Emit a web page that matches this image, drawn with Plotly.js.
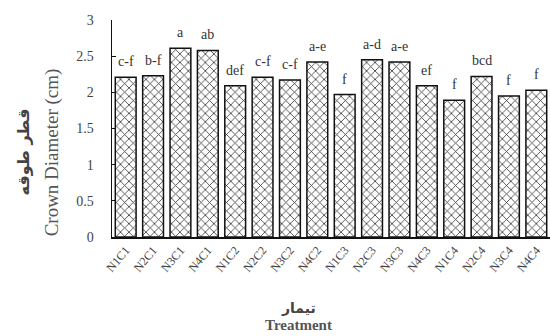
<!DOCTYPE html>
<html><head><meta charset="utf-8">
<script src="https://cdn.plot.ly/plotly-3.0.1.min.js"></script>
<style>html,body{margin:0;padding:0;background:#fff}#c{width:550px;height:336px}</style>
</head><body><div id="c"></div>
<script>
const categories = ["N1C1","N2C1","N3C1","N4C1","N1C2","N2C2","N3C2","N4C2","N1C3","N2C3","N3C3","N4C3","N1C4","N2C4","N3C4","N4C4"];
const values = [2.21,2.23,2.61,2.58,2.09,2.21,2.17,2.42,1.97,2.45,2.42,2.09,1.89,2.22,1.95,2.03];
const letters = ["c-f","b-f","a","ab","def","c-f","c-f","a-e","f","a-d","a-e","ef","f","bcd","f","f"];
const yTicks = [0,0.5,1,1.5,2,2.5,3];

const serif = "Liberation Serif";
const trace = {
  type: "bar", x: categories, y: values, width: 0.76,
  marker: {color: "#fff", line: {color: "#111", width: 1.5},
    pattern: {shape: "x", fgcolor: "#333", bgcolor: "#fff", size: 6, solidity: 0.25}},
  hoverinfo: "skip"
};
const letterAnns = categories.map((c, i) => ({
  x: c, y: values[i], xref: "x", yref: "y", text: letters[i], showarrow: false,
  yanchor: "bottom", yshift: 6, font: {family: serif, size: 14, color: "#333"}
}));
const layout = {
  width: 550, height: 336, showlegend: false,
  font: {family: serif},
  margin: {l: 112, r: 0, t: 20, b: 99},
  paper_bgcolor: "#fff", plot_bgcolor: "#fff",
  xaxis: {type: "category", range: [-0.5, 15.5], showline: true, linecolor: "#111", linewidth: 1.5,
    ticks: "", tickangle: -50, tickfont: {family: serif, size: 12, color: "#444"}, showgrid: false},
  yaxis: {range: [0, 3], tickvals: yTicks, ticktext: yTicks.map(String), showline: true, linecolor: "#111", linewidth: 1.5,
    ticks: "inside", ticklen: 4, tickcolor: "#111", ticklabelstandoff: 14,
    tickfont: {family: serif, size: 14, color: "#444"}, showgrid: false, zeroline: false},
  annotations: letterAnns.concat([
    {text: "<b>قطر طوقه</b>", xref: "paper", yref: "paper", x: -0.203, y: 0.39, textangle: -90, showarrow: false,
     font: {family: "DejaVu Sans", size: 16, color: "#444"}, xanchor: "center", yanchor: "middle"},
    {text: "Crown Diameter (cm)", xref: "paper", yref: "paper", x: -0.137, y: 0.39, textangle: -90, showarrow: false,
     font: {family: serif, size: 19, color: "#555"}, xanchor: "center", yanchor: "middle"},
    {text: "<b>تیمار</b>", xref: "paper", yref: "paper", x: 0.425, y: -0.325, showarrow: false,
     font: {family: "DejaVu Sans", size: 14, color: "#444"}, xanchor: "center", yanchor: "middle"},
    {text: "<b>Treatment</b>", xref: "paper", yref: "paper", x: 0.425, y: -0.405, showarrow: false,
     font: {family: serif, size: 15, color: "#555"}, xanchor: "center", yanchor: "middle"}
  ])
};
Plotly.newPlot("c", [trace], layout, {displayModeBar: false, staticPlot: true});
</script></body></html>
